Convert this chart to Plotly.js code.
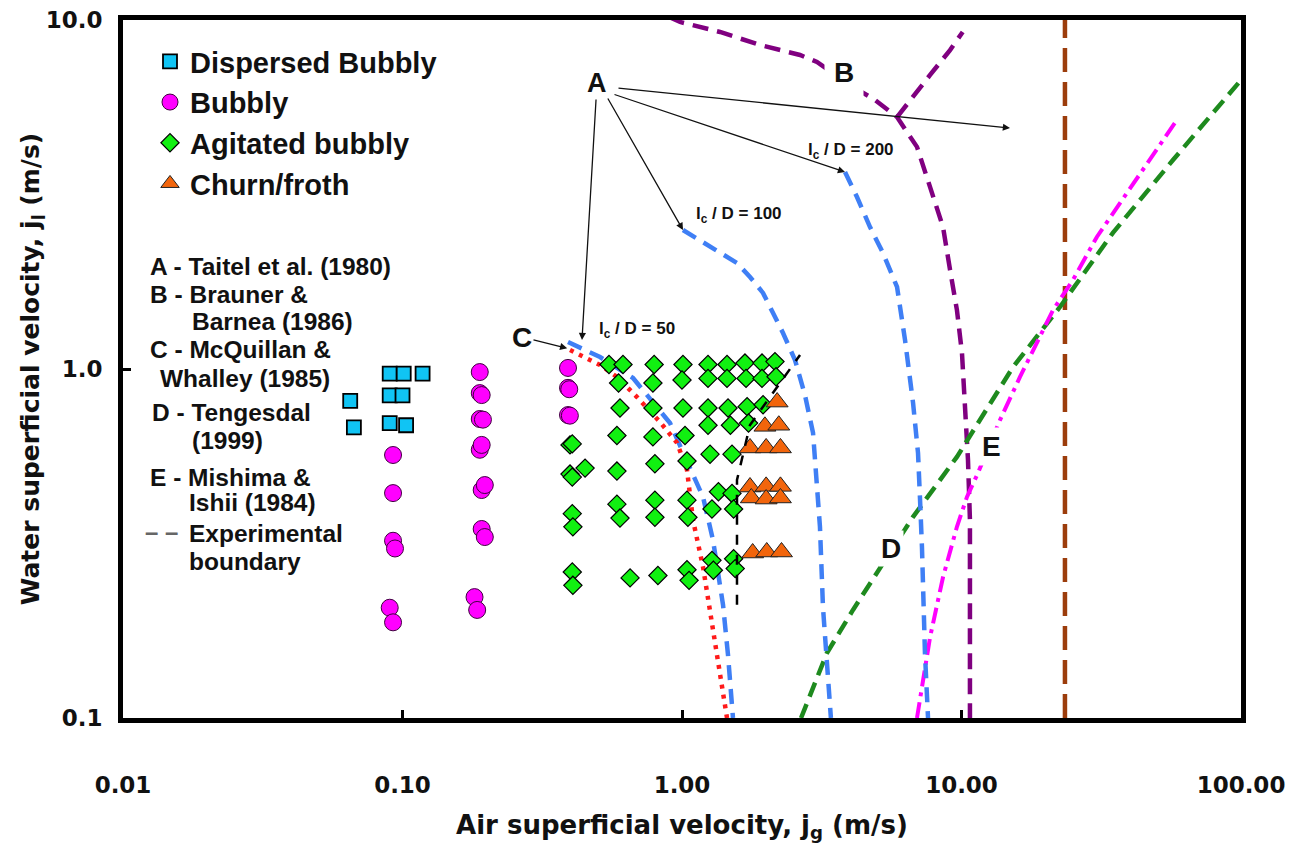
<!DOCTYPE html>
<html>
<head>
<meta charset="utf-8">
<script src="https://cdn.plot.ly/plotly-3.0.1.min.js"></script>
<style>html,body{margin:0;padding:0;background:#fff}#chart{width:1296px;height:843px}</style>
</head>
<body>
<div id="chart"></div>
<script>
// ---------- Data ----------
// Flow-pattern observations
const dispersedX = [0.065, 0.067, 0.090, 0.101, 0.118, 0.090, 0.100, 0.090, 0.103];
const dispersedY = [0.81, 0.68, 0.97, 0.97, 0.97, 0.84, 0.84, 0.70, 0.69];

const bubblyX = [0.0925, 0.0925, 0.0925, 0.094, 0.090, 0.0925,
                 0.189, 0.189, 0.192, 0.189, 0.194, 0.189, 0.192, 0.192, 0.197, 0.192, 0.197, 0.181, 0.185,
                 0.391, 0.391, 0.395, 0.391, 0.397];
const bubblyY = [0.567, 0.441, 0.322, 0.306, 0.207, 0.188,
                 0.98, 0.853, 0.842, 0.719, 0.716, 0.587, 0.606, 0.45, 0.465, 0.348, 0.33, 0.222, 0.204,
                 1.007, 0.883, 0.875, 0.738, 0.735];

const agitatedX = [0.548, 0.615, 0.795, 1.008, 1.239, 1.449, 1.68, 1.933, 2.151,
                   0.593, 0.787, 1.0, 1.239, 1.449, 1.695, 1.933, 2.17,
                   0.60, 0.787, 1.008, 1.239, 1.461, 1.71, 1.95,
                   1.239, 1.49, 1.73,
                   0.585, 0.787, 1.025,
                   0.3975, 0.405,
                   1.26, 1.51, 1.042,
                   0.3975, 0.45, 0.405, 0.585, 0.80,
                   1.35, 1.51,
                   0.80, 1.042, 0.585,
                   1.28, 1.53,
                   0.405,
                   0.60, 0.80, 1.05,
                   0.407,
                   1.28, 1.53, 1.295, 1.55,
                   0.405, 0.407, 0.652, 0.82, 1.042, 1.06];
const agitatedY = [1.03, 1.03, 1.03, 1.03, 1.03, 1.03, 1.04, 1.04, 1.05,
                   0.912, 0.912, 0.93, 0.94, 0.94, 0.94, 0.94, 0.95,
                   0.773, 0.773, 0.773, 0.773, 0.773, 0.78, 0.79,
                   0.69, 0.69, 0.70,
                   0.645, 0.639, 0.645,
                   0.606, 0.61,
                   0.57, 0.57, 0.545,
                   0.50, 0.52, 0.49, 0.51, 0.535,
                   0.445, 0.44,
                   0.421, 0.421, 0.41,
                   0.397, 0.397,
                   0.385,
                   0.374, 0.376, 0.376,
                   0.353,
                   0.283, 0.286, 0.265, 0.268,
                   0.262, 0.24, 0.252, 0.256, 0.266, 0.248];

const churnX = [2.19, 1.98, 2.22, 1.751, 2.0, 2.25, 1.751, 2.0, 2.25, 1.77, 2.0, 2.25, 1.79, 2.01, 2.27];
const churnY = [0.804, 0.685, 0.69, 0.594, 0.594, 0.594, 0.459, 0.461, 0.461, 0.427, 0.424, 0.427, 0.297, 0.299, 0.299];

// Transition boundaries
const mcqX = [0.3975, 0.509, 0.585, 0.690, 0.834, 0.960, 1.042, 1.095, 1.189, 1.259, 1.334, 1.402, 1.449];   // C
const mcqY = [1.133, 1.027, 0.949, 0.831, 0.705, 0.614, 0.514, 0.369, 0.271, 0.200, 0.1535, 0.118, 0.1];

const taitel50X = [0.391, 0.509, 0.668, 0.906, 1.068, 1.189, 1.291, 1.402, 1.461, 1.522];          // A, lc/D = 50
const taitel50Y = [1.195, 1.082, 0.942, 0.700, 0.52, 0.43, 0.3236, 0.211, 0.1515, 0.1];

const taitel100X = [1.008, 1.160, 1.334, 1.573, 1.751, 1.949, 2.117, 2.298, 2.537, 2.754, 2.943, 3.04, 3.116, 3.194, 3.301, 3.41];
const taitel100Y = [2.502, 2.342, 2.193, 2.013, 1.835, 1.652, 1.447, 1.268, 1.061, 0.842, 0.656, 0.481, 0.353, 0.208, 0.1466, 0.1];

const taitel200X = [3.83, 4.228, 4.707, 5.238, 5.88, 6.28, 6.71, 6.99, 7.10, 7.22, 7.40, 7.59];
const taitel200Y = [3.667, 3.11, 2.55, 2.149, 1.718, 1.211, 0.799, 0.574, 0.430, 0.309, 0.1535, 0.1];

const braunerX = [0.90, 0.984, 1.368, 1.901, 2.644, 3.04, 3.99, 4.905, 5.88, 6.93, 7.72, 8.59, 9.10, 9.63, 10.04, 10.29, 10.55, 10.72, 10.72];  // B
const braunerY = [10.2, 9.87, 9.24, 8.48, 7.94, 7.58, 6.51, 5.90, 5.27, 4.33, 3.32, 2.55, 1.922, 1.476, 1.111, 0.799, 0.548, 0.369, 0.1];
const brauner2X = [5.88, 6.54, 7.72, 9.10, 10.1];
const brauner2Y = [5.27, 5.90, 6.96, 8.20, 9.24];

const tengesdalX = [2.666, 3.30, 4.09, 4.99, 6.71, 9.63, 11.65, 15.29, 22.5, 34.8, 57.1, 100];          // D
const tengesdalY = [0.1, 0.1535, 0.204, 0.260, 0.377, 0.56, 0.714, 1.013, 1.506, 2.455, 3.97, 6.73];

const mishimaX = [6.93, 7.72, 8.59, 9.63, 10.46, 11.46, 13.73, 16.19, 21.26, 25.06, 30.5, 36.9, 46.1, 58.0];  // E
const mishimaY = [0.1, 0.1706, 0.2535, 0.353, 0.430, 0.504, 0.714, 0.949, 1.476, 1.80, 2.39, 2.99, 3.89, 5.07];

const verticalX = [23.45, 23.45];
const verticalY = [0.1, 10];

const experimentalX = [1.573, 1.573, 1.751, 2.644];
const experimentalY = [0.211, 0.481, 0.691, 1.097];

// Tick labels
const xTickVals = [0.01, 0.1, 1, 10, 100];
const xTickText = ['0.01', '0.10', '1.00', '10.00', '100.00'];
const yTickVals = [0.1, 1, 10];
const yTickText = ['0.1', '1.0', '10.0'];

// Left-hand key text
const keyLines = ['A - Taitel et al. (1980)', 'B - Brauner &', 'Barnea (1986)', 'C - McQuillan &',
                  'Whalley (1985)', 'D - Tengesdal', '(1999)', 'E - Mishima &', 'Ishii (1984)',
                  'Experimental', 'boundary'];

// ---------- Helpers for layout positions ----------
const PL = 123, PR = 1241, PT = 20, PB = 718;
const px2lx = p => -2 + (p - PL) / ((PR - PL) / 4);
const py2ly = p => 1 - (p - PT) / ((PB - PT) / 2);
const px2paper = p => (p - PL) / (PR - PL);
const py2paper = p => 1 - (p - PT) / (PB - PT);
const L = Math.log10;

function line(x, y, color, width, dash) {
  return {x, y, type: 'scatter', mode: 'lines', showlegend: false, hoverinfo: 'skip',
          line: {color, width, dash}};
}

const traces = [
  line(verticalX, verticalY, '#9C3D0C', 4.5, '24px,10px'),
  line(braunerX, braunerY, '#800080', 4.5, '16px,9px'),
  line(brauner2X, brauner2Y, '#800080', 4.5, '16px,9px'),
  line(tengesdalX, tengesdalY, '#1E8A1E', 4.5, '15px,8px'),
  line(mishimaX, mishimaY, '#FF00FF', 4, '16px,6px,4px,6px'),
  line(taitel200X, taitel200Y, '#3F7FF5', 4.5, '15px,9px'),
  line(taitel100X, taitel100Y, '#3F7FF5', 4.5, '15px,9px'),
  line(taitel50X, taitel50Y, '#3F7FF5', 4.5, '15px,9px'),
  line(mcqX, mcqY, '#FF1A1A', 4.5, '4px,6px'),
  {x: dispersedX, y: dispersedY, type: 'scatter', mode: 'markers', name: 'Dispersed Bubbly',
   marker: {symbol: 'square', size: 14, color: '#10C4F4', line: {color: '#000', width: 1.8}}},
  {x: bubblyX, y: bubblyY, type: 'scatter', mode: 'markers', name: 'Bubbly',
   marker: {symbol: 'circle', size: 17, color: '#FF00FF', line: {color: '#400040', width: 1}}},
  {x: agitatedX, y: agitatedY, type: 'scatter', mode: 'markers', name: 'Agitated bubbly',
   marker: {symbol: 'diamond', size: 14, color: '#11F011', line: {color: '#000', width: 1.2}}},
  {x: churnX, y: churnY, type: 'scatter', mode: 'markers', name: 'Churn/froth',
   marker: {symbol: 'triangle-up', size: 19, color: '#F2650C', line: {color: '#222', width: 1}}},
  line(experimentalX, experimentalY, '#000000', 2.5, '10px,10px')
];

// minor tick grid (2..9 in each decade)
function minorTicks(d0, d1) {
  const v = [];
  for (let d = d0; d < d1; d++) for (let k = 2; k <= 9; k++) v.push(k * Math.pow(10, d));
  return v;
}

const bold = (size, fam) => ({size, family: fam || 'Liberation Sans, Arial, sans-serif', weight: 'bold', color: '#111'});

const annotations = [];
function label(text, lx, ly, size, bg, pad) {
  const a = {xref: 'x', yref: 'y', x: lx, y: ly, text, showarrow: false,
             font: bold(size), xanchor: 'center', yanchor: 'middle'};
  if (bg) { a.bgcolor = bg; a.borderpad = pad || 2; }
  annotations.push(a);
}
function arrow(text, tx, ty, hx, hy, size) {
  annotations.push({xref: 'x', yref: 'y', axref: 'x', ayref: 'y', x: hx, y: hy, ax: tx, ay: ty,
                    text, showarrow: true, arrowhead: 2, arrowsize: 1.1, arrowwidth: 1.3,
                    arrowcolor: '#111', standoff: 0, startstandoff: 0, font: bold(size || 27)});
}

arrow('A', px2lx(597), py2ly(83), px2lx(582), py2ly(340), 27);
arrow('', px2lx(607), py2ly(97), L(taitel100X[0]), L(taitel100Y[0]));
arrow('', px2lx(613), py2ly(94), L(taitel200X[0]), L(taitel200Y[0]));
arrow('', px2lx(617), py2ly(88), px2lx(1010), py2ly(128));
label('l<sub>c</sub> / D = 50', px2lx(637), py2ly(330), 17);
label('l<sub>c</sub> / D = 100', px2lx(739), py2ly(215), 17);
label('l<sub>c</sub> / D = 200', px2lx(851), py2ly(151), 17);
label('B', px2lx(844), py2ly(72), 28, '#fff', 9);
arrow('C', px2lx(522), py2ly(337), L(mcqX[0]) - 0.01, L(mcqY[0]) + 0.005, 28);
label('D', px2lx(891), py2ly(548), 28, '#fff', 2);
label('E', px2lx(991), py2ly(446), 28, '#fff', 3);

// key text on the left
const keyPos = [[148, 266], [148, 294], [190, 321], [148, 350], [158, 378], [150, 412], [190, 440],
                [148, 477], [187, 503], [187, 533], [187, 561]];
keyLines.forEach((t, i) => {
  annotations.push({xref: 'paper', yref: 'paper', x: px2paper(keyPos[i][0]), y: py2paper(keyPos[i][1]),
                    text: t, showarrow: false, xanchor: 'left', yanchor: 'middle', font: bold(24.5)});
});
annotations.push({xref: 'paper', yref: 'paper', x: px2paper(143), y: py2paper(531), text: '\u2013 \u2013',
                  showarrow: false, xanchor: 'left', yanchor: 'middle',
                  font: {size: 24, family: 'Liberation Sans', weight: 'bold', color: '#666'}});

const axisCommon = {
  type: 'log', showgrid: false, zeroline: false, showline: true, linecolor: '#000', linewidth: 5,
  mirror: true, ticks: 'inside', ticklen: 8, tickwidth: 3, tickcolor: '#000',
  tickfont: bold(23, 'DejaVu Sans, sans-serif'), tickmode: 'array'
};
// overlay axes that carry only tick marks (no line, no labels)
function tickAxis(over, side, range, vals, dir, len, width) {
  return {type: 'log', overlaying: over, anchor: over === 'x' ? 'y' : 'x', side, range, tickmode: 'array',
          tickvals: vals, ticks: dir, ticklen: len, tickwidth: width, tickcolor: '#000',
          showticklabels: false, showgrid: false, zeroline: false, showline: false};
}

const layout = {
  width: 1296, height: 843,
  margin: {l: PL, r: 1296 - PR, t: PT, b: 843 - PB},
  paper_bgcolor: '#fff', plot_bgcolor: '#fff',
  showlegend: true,
  legend: {x: px2paper(150), y: py2paper(36), xanchor: 'left', yanchor: 'top',
           bgcolor: 'rgba(0,0,0,0)', borderwidth: 0, font: bold(29), traceorder: 'normal'},
  xaxis: Object.assign({}, axisCommon, {
    range: [-2, 2], tickvals: xTickVals, ticktext: xTickText, ticklabelstandoff: 42,
    title: {text: 'Air superficial velocity, j<sub>g</sub> (m/s)', font: bold(26, 'DejaVu Sans, sans-serif'), standoff: 28}
  }),
  yaxis: Object.assign({}, axisCommon, {
    range: [-1, 1], tickvals: yTickVals, ticktext: yTickText, ticklabelstandoff: 11,
    title: {text: 'Water superficial velocity, j<sub>l</sub> (m/s)', font: bold(25, 'DejaVu Sans, sans-serif'), standoff: 0}
  }),
  xaxis2: tickAxis('x', 'bottom', [-2, 2], minorTicks(-2, 2), 'inside', 9, 2.5),
  xaxis3: tickAxis('x', 'bottom', [-2, 2], xTickVals, 'outside', 10, 3),
  yaxis2: tickAxis('y', 'left', [-1, 1], minorTicks(-1, 1), 'inside', 9, 2.5),
  yaxis3: tickAxis('y', 'left', [-1, 1], yTickVals, 'outside', 10, 3),
  annotations
};

Plotly.newPlot('chart', traces, layout, {displayModeBar: false, staticPlot: true});
</script>
</body>
</html>
